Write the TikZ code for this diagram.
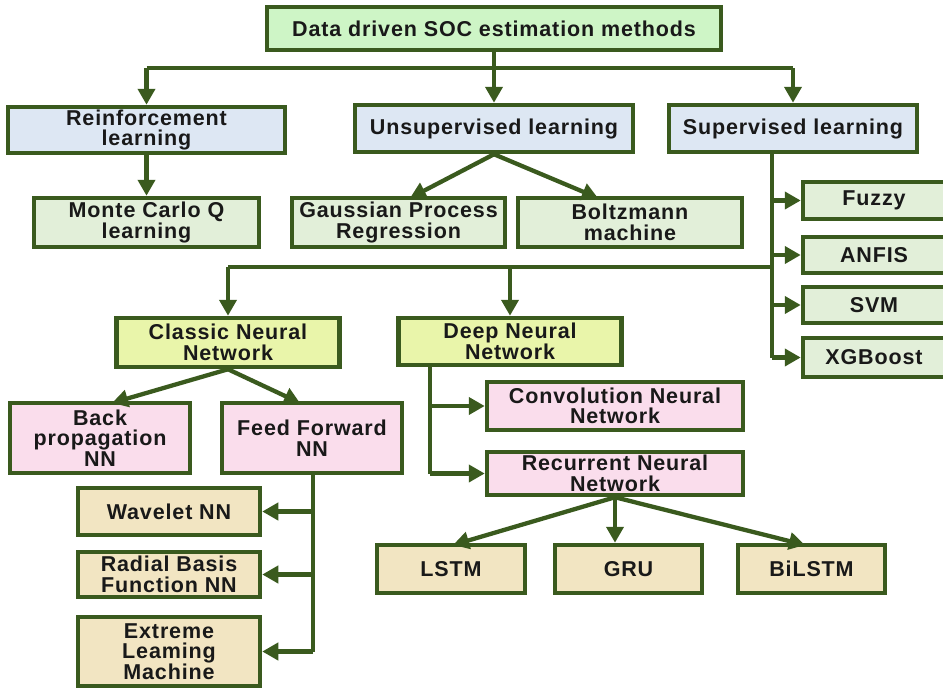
\documentclass[tikz,border=0pt]{standalone}
\usepackage{fontspec}
\setmainfont{Liberation Sans}[LetterSpace=4]
\usetikzlibrary{arrows.meta}
\definecolor{edge}{RGB}{58,90,30}
\definecolor{topfill}{RGB}{206,245,198}
\definecolor{bluefill}{RGB}{221,231,243}
\definecolor{greenfill}{RGB}{226,239,217}
\definecolor{limefill}{RGB}{233,245,170}
\definecolor{pinkfill}{RGB}{250,221,236}
\definecolor{tanfill}{RGB}{242,229,194}
\tikzset{
  box/.style={draw=edge, line width=4.5pt, align=center, inner sep=0pt,
    font=\fontsize{21.5}{20.5}\selectfont\bfseries, text=black!90},
  link/.style={draw=edge, line width=4.3pt, -{Triangle[length=16pt,width=17pt]}},
  wire/.style={draw=edge, line width=4.3pt}
}
\begin{document}
\begin{tikzpicture}[x=1pt,y=-1pt]
      \useasboundingbox (0,0) rectangle (943,688);
      \draw
        (494,28.5) node[box, fill=topfill, minimum width=454pt, minimum height=43pt] (top){Data driven SOC estimation methods}
        (146.5,130) node[box, fill=bluefill, minimum width=277pt, minimum height=46pt] (rl){Reinforcement\\learning}
        (494,128.5) node[box, fill=bluefill, minimum width=278pt, minimum height=47pt] (ul){Unsupervised learning}
        (793,128.5) node[box, fill=bluefill, minimum width=248pt, minimum height=47pt] (sl){Supervised learning}
        (146.5,222.5) node[box, fill=greenfill, minimum width=225pt, minimum height=49pt] (mc){Monte Carlo Q\\learning}
        (398.5,222.5) node[box, fill=greenfill, minimum width=213pt, minimum height=49pt] (gp){Gaussian Process\\Regression}
        (630,222.5) node[box, fill=greenfill, minimum width=224pt, minimum height=49pt] (bm){Boltzmann\\machine}
        (874,200.5) node[box, fill=greenfill, minimum width=142pt, minimum height=37pt] (fz){Fuzzy}
        (874,255) node[box, fill=greenfill, minimum width=142pt, minimum height=36pt] (an){ANFIS}
        (874,305) node[box, fill=greenfill, minimum width=142pt, minimum height=36pt] (sv){SVM}
        (874,357.5) node[box, fill=greenfill, minimum width=142pt, minimum height=39pt] (xg){XGBoost}
        (228,342.5) node[box, fill=limefill, minimum width=223pt, minimum height=49pt] (cnn){Classic Neural\\Network}
        (510,341.5) node[box, fill=limefill, minimum width=223pt, minimum height=47pt] (dnn){Deep Neural\\Network}
        (100,438) node[box, fill=pinkfill, minimum width=180pt, minimum height=70pt] (bp){Back\\propagation\\NN}
        (312,438) node[box, fill=pinkfill, minimum width=180pt, minimum height=70pt] (ff){Feed Forward\\NN}
        (615,406) node[box, fill=pinkfill, minimum width=256pt, minimum height=48pt] (cv){Convolution Neural\\Network}
        (615,473.5) node[box, fill=pinkfill, minimum width=256pt, minimum height=43pt] (rnn){Recurrent Neural\\Network}
        (451,569) node[box, fill=tanfill, minimum width=148pt, minimum height=48pt] (ls){LSTM}
        (628.5,569) node[box, fill=tanfill, minimum width=147pt, minimum height=48pt] (gru){GRU}
        (811.5,569) node[box, fill=tanfill, minimum width=147pt, minimum height=48pt] (bi){BiLSTM}
        (169,511.5) node[box, fill=tanfill, minimum width=182pt, minimum height=47pt] (wv){Wavelet NN}
        (169,574.5) node[box, fill=tanfill, minimum width=182pt, minimum height=45pt] (rb){Radial Basis\\Function NN}
        (169,651.5) node[box, fill=tanfill, minimum width=182pt, minimum height=69pt] (el){Extreme\\Leaming\\Machine};
      \coordinate (t1) at (146.5,68);
      \coordinate (t2) at (793,68);
      \coordinate (s1) at (772,357.5);
      \coordinate (s2) at (772,267);
      \coordinate (c1) at (228,267);
      \coordinate (d1) at (430,473.5);
      \coordinate (f1) at (313,651.5);
      \begin{scope}[link]
        \draw (top.south) to (ul.north);
        \draw (t1) -- (rl.north);
        \draw (t2) -- (sl.north);
        \draw (rl.south) to (mc.north);
        \draw (ul.south) to (410,198);
        \draw (ul.south) to (598,198);
        \draw (772,200.5) to (fz.west);
        \draw (772,255) to (an.west);
        \draw (772,305) to (sv.west);
        \draw (s1) to (xg.west);
        \draw (c1) to (cnn.north);
        \draw (dnn.north |- s2) to (dnn.north);
        \draw (cnn.south) to (112,403);
        \draw (cnn.south) to (300,403);
        \draw (430,406) to (cv.west);
        \draw (d1) to (rnn.west);
        \draw (rnn.south) to (453,545);
        \draw (rnn.south) to (gru.north -| rnn.south);
        \draw (rnn.south) to (805,545);
        \draw (313,511.5) to (wv.east);
        \draw (313,574.5) to (rb.east);
        \draw (f1) to (el.east);
      \end{scope}
      \begin{scope}[wire]
        \draw (t1) -- (t2);
        \draw (sl.south -| s1) -- (s1);
        \draw (s2) -- (c1);
        \draw (dnn.south -| d1) -- (d1);
        \draw (ff.south -| f1) -- (f1);
      \end{scope}
    \end{tikzpicture}
\end{document}
